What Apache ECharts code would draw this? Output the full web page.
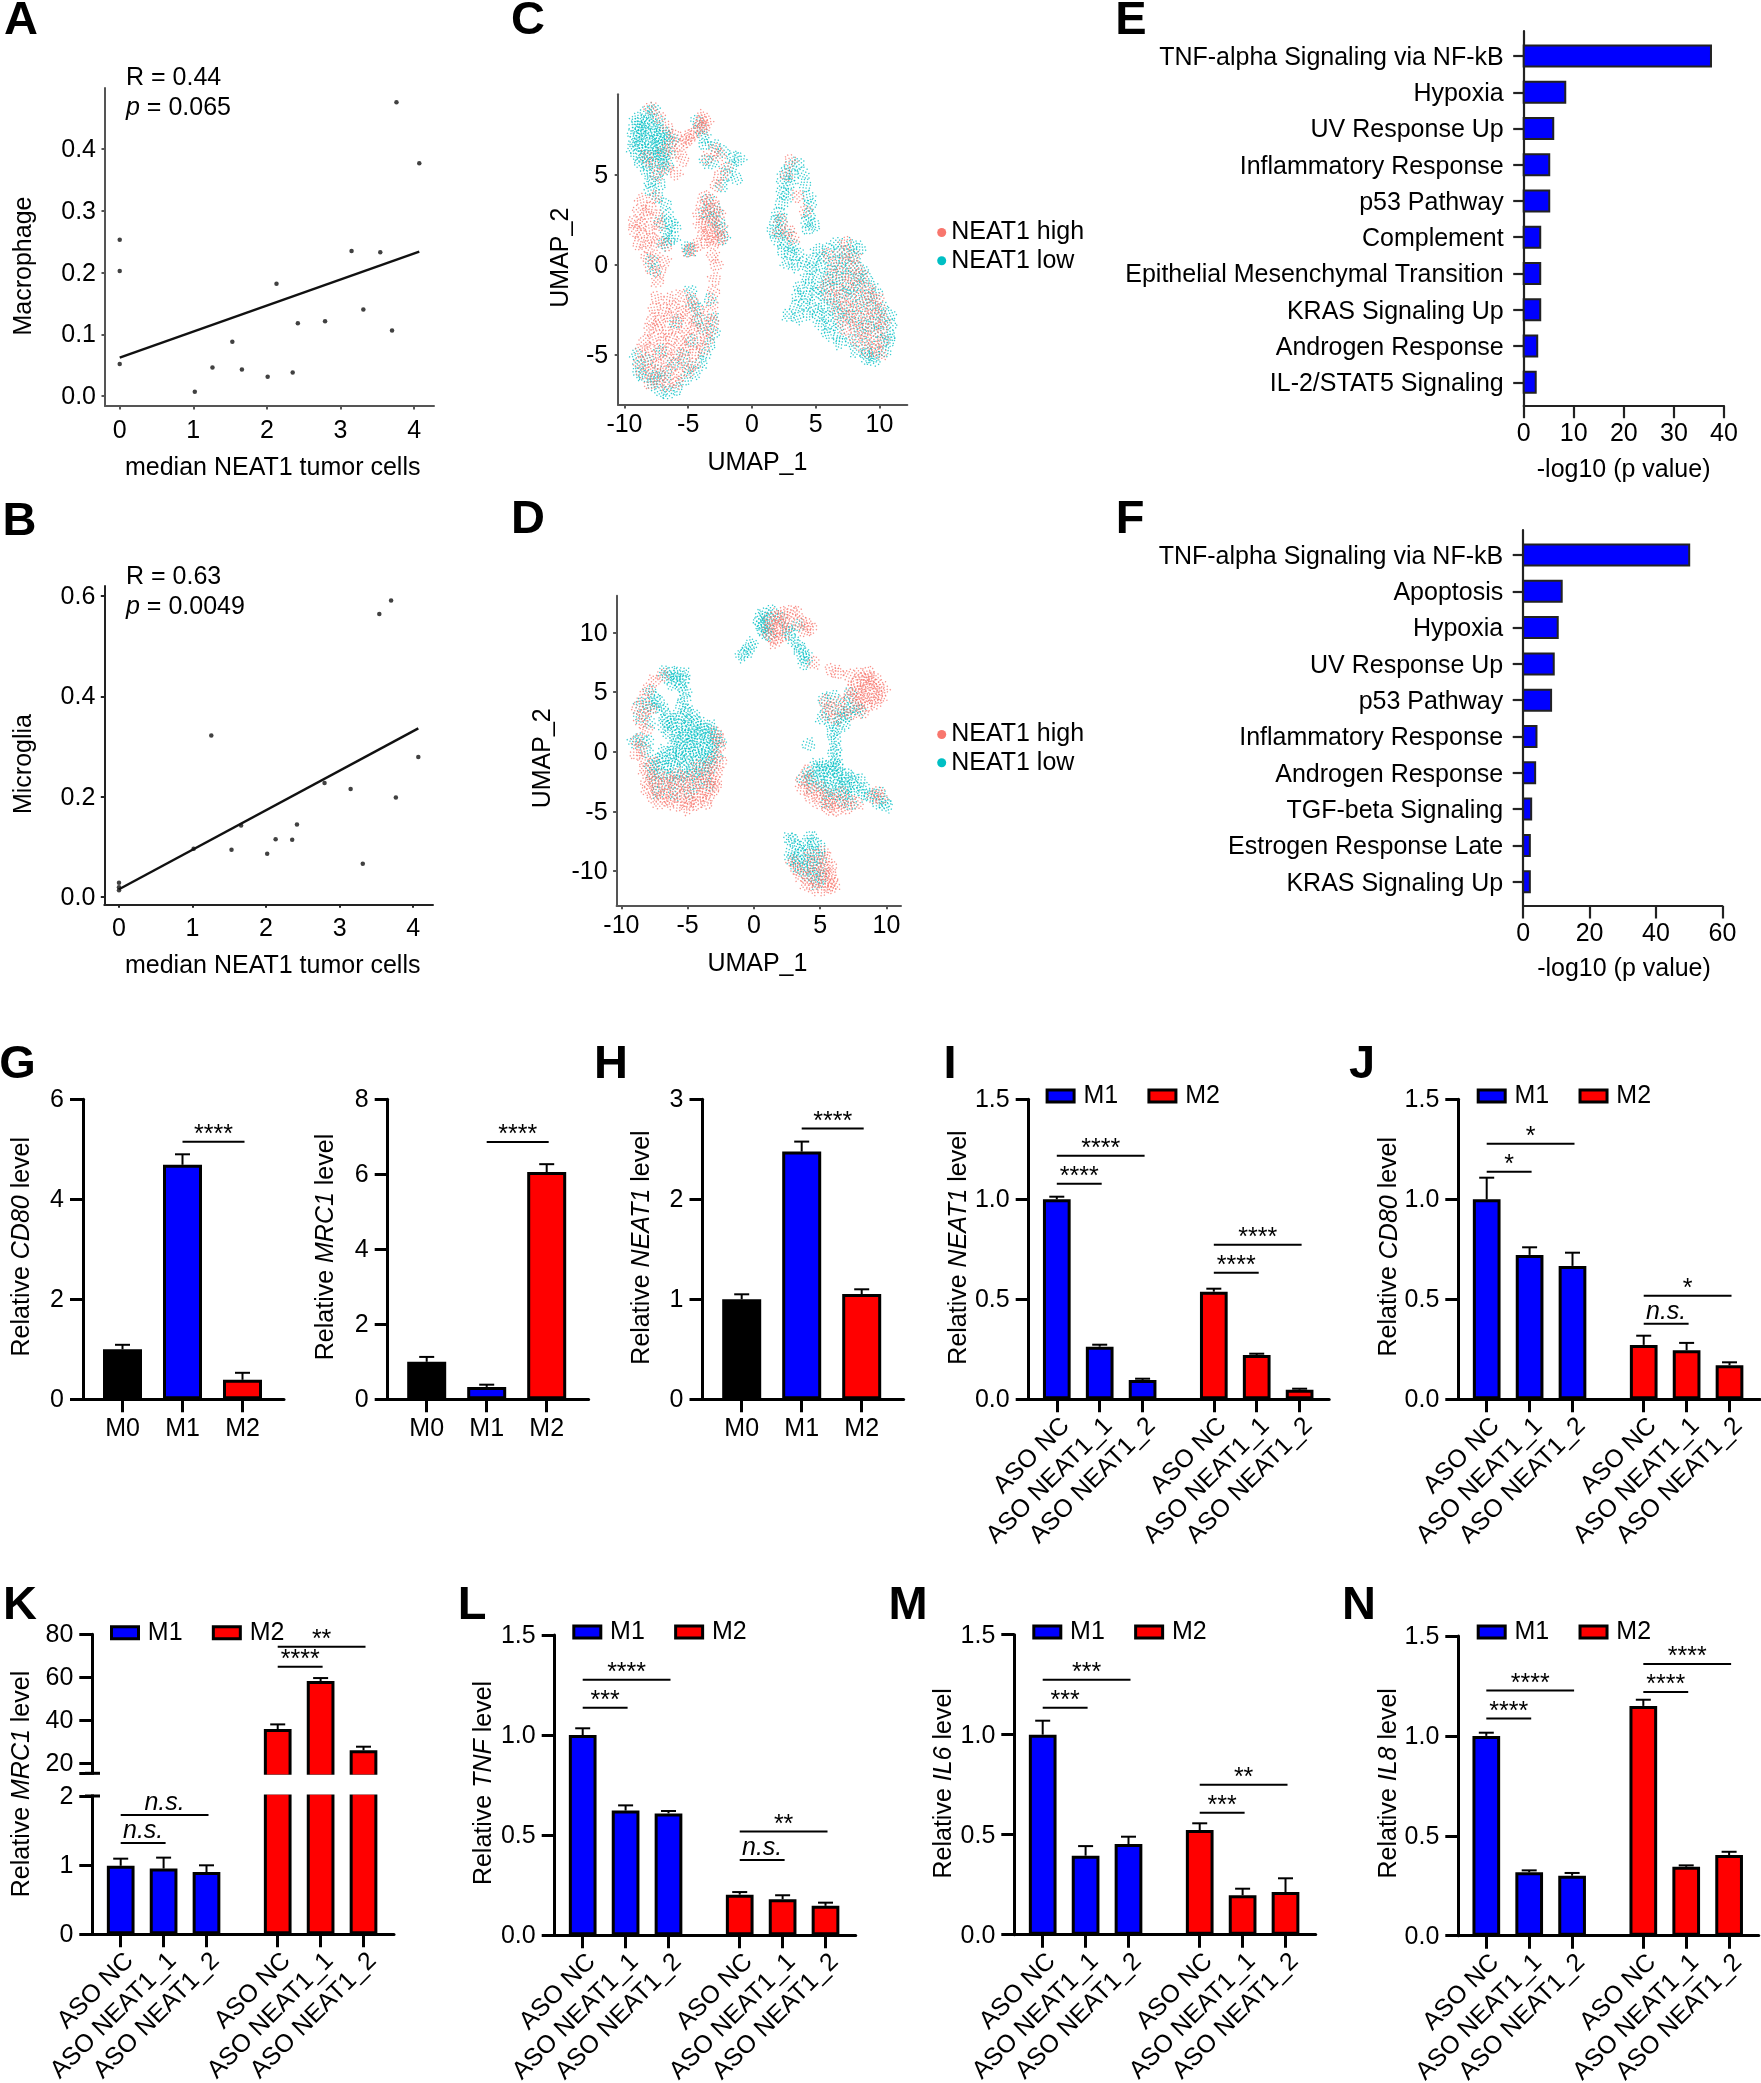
<!DOCTYPE html>
<html>
<head>
<meta charset="utf-8">
<style>html,body{margin:0;background:#fff}#chart{width:1761px;height:2083px}</style>
<script src="https://cdn.jsdelivr.net/npm/echarts@6/dist/echarts.min.js"></script>
</head>
<body>
<div id="chart"></div>
<script>
// A, B scatter: [median NEAT1, fraction]
const macrophagePoints = [[0,.253],[0,.2025],[0,.052],[1.02,.007],[1.26,.046],[1.53,.088],[1.66,.043],[2.01,.031],[2.13,.182],[2.35,.038],[2.42,.118],[2.79,.121],[3.15,.235],[3.31,.14],[3.54,.233],[3.7,.106],[3.76,.476],[4.07,.377]];
const macrophageTrend = [[0,.062],[4.07,.234]];
const microgliaPoints = [[0,.028],[0,.019],[0,.013],[1.015,.096],[1.255,.322],[1.53,.094],[1.66,.142],[2.015,.086],[2.13,.115],[2.355,.114],[2.42,.144],[2.795,.227],[3.15,.215],[3.315,.066],[3.54,.564],[3.7,.591],[3.765,.198],[4.07,.279]];
const microgliaTrend = [[0,.015],[4.07,.336]];

// C, D UMAP clouds, hand read region by region (a thinned estimate of the cells)
const umapCHigh = [[-8,8.7],[-7.3,8.2],[-6.6,7.6],[-6,7.2],[-5.6,6.6],[-5.2,6.9],[-6.1,6.2],[-5.4,5.8],[-6.6,5.4],[-7.4,5],[-6,5.1],[-7,6.3],[-8.3,6],[-7.7,5.6],[-6.4,6.8],
[-4,8],[-4.1,7.7],[-3.9,8.2],[-4.4,7.4],[-4.8,7.2],[-3.8,7.6],[-3.6,7.9],[-5,7],[-2.9,6.4],[-2.5,6.1],[-2,5.4],[-2.6,4.9],[-2.8,4.4],[-3.5,5.9],
[-8.6,3.6],[-8,3.2],[-7.6,3.8],[-8.9,3],[-8.3,2.8],[-7.4,2.7],[-9.2,2.4],[-8.7,2.3],[-8,2.1],[-7.3,2.2],[-9.2,1.9],[-8.6,1.7],[-7.9,1.5],[-8.9,1.2],[-8.3,1],[-7.4,1.3],[-6.7,1.1],[-8.2,.4],[-7.6,.5],[-6.9,.2],[-7.9,-.2],[-7.2,-.4],[-7.4,-.9],
[-3.7,3.8],[-3.2,3.6],[-3.9,3.3],[-3.4,3.1],[-2.9,3.2],[-4.1,2.8],[-3.6,2.7],[-3.1,2.6],[-2.6,2.8],[-4,2.2],[-3.5,2.1],[-3,2.3],[-2.5,2.1],[-3.8,1.7],[-3.3,1.6],[-2.8,1.8],[-2.3,1.6],[-3.6,1.3],[-3.1,1.2],[-2.6,1.4],[-4.3,1.1],[-4.7,.9],[-5,.8],[-3.1,.5],[-2.8,0],[-2.9,-.8],[-3,-1.5],[-3.1,-2.2],
[-7.5,-1.8],[-6.5,-1.9],[-5.5,-1.7],[-4.7,-1.9],[-7.6,-2.4],[-6.9,-2.5],[-6.2,-2.3],[-5.5,-2.6],[-4.8,-2.3],[-4.2,-2.5],[-7.8,-3],[-7.2,-3.1],[-6.5,-2.9],[-5.8,-3.1],[-5.1,-2.9],[-4.4,-3.1],[-3.6,-2.9],[-3.1,-3.1],
[-8,-3.6],[-7.4,-3.5],[-6.7,-3.7],[-6,-3.5],[-5.3,-3.7],[-4.6,-3.5],[-3.9,-3.7],[-3.2,-3.6],[-8.4,-4.2],[-7.7,-4.1],[-7,-4.3],[-6.3,-4.1],[-5.6,-4.3],[-4.9,-4.1],[-4.2,-4.3],[-3.5,-4.1],
[-8.7,-4.8],[-8,-4.7],[-7.3,-4.9],[-6.6,-4.7],[-5.9,-4.9],[-5.2,-4.7],[-4.5,-4.9],[-3.8,-4.7],[-8.8,-5.4],[-8.1,-5.3],[-7.4,-5.5],[-6.7,-5.3],[-6,-5.5],[-5.3,-5.3],[-4.6,-5.5],[-8.6,-6],[-7.9,-5.9],[-7.2,-6.1],[-6.5,-5.9],[-5.8,-6.1],[-5,-5.9],[-8,-6.6],[-7.3,-6.5],[-6.6,-6.7],[-5.9,-6.5],
[3,5.8],[2.7,5],[3.6,3.8],[2.3,2.5],[2.9,1.9],[3.2,1.5],[2.1,1.8],[4.2,3],[7.4,1.2],[6,.6],[7.2,.7],[8,.5],[6.4,0],[7.4,.1],[8.2,-.1],[6.2,-.6],[7,-.5],[7.8,-.7],[8.6,-.6],
[5.8,-1.2],[6.7,-1.3],[7.5,-1.1],[8.3,-1.2],[9.1,-1.3],[6.1,-1.8],[7,-1.7],[7.7,-1.9],[8.5,-1.8],[9.3,-1.7],[9.9,-1.9],[6.7,-2.4],[7.3,-2.3],[8,-2.5],[8.7,-2.4],[9.4,-2.3],[10.1,-2.5],[7,-3],[7.6,-2.9],[8.3,-3.1],[9,-3],[9.7,-2.9],[10.4,-3.1],[7.4,-3.6],[8.1,-3.5],[8.8,-3.7],[9.5,-3.6],[10.2,-3.5],[8.2,-4.2],[8.9,-4.1],[9.6,-4.3],[10.3,-4.2],[9,-4.8],[9.7,-4.7],[10.1,-4.9]];
const umapCLow = [[-8.3,8.5],[-7.7,8.6],[-9,8.1],[-8.5,8],[-8,8.2],[-7.4,8],[-9.2,7.7],[-8.7,7.6],[-8.2,7.8],[-7.6,7.7],[-7.1,7.5],[-9.3,7.3],[-8.8,7.2],[-8.3,7.4],[-7.8,7.3],[-7.3,7.2],[-6.8,7.3],[-9.2,6.9],[-8.7,6.8],[-8.2,7],[-7.7,6.9],[-7.2,6.8],[-6.7,7],[-6.2,6.9],[-9.3,6.5],[-8.8,6.6],[-8.3,6.4],[-7.8,6.5],[-7.3,6.6],[-6.8,6.4],[-9,6.1],[-8.5,6],[-8,6.2],[-7.5,6.1],[-7,6],[-6.5,6.2],[-8.7,5.7],[-8.2,5.6],[-7.6,5.8],[-7.1,5.7],[-6.6,5.6],[-8.2,5.2],[-7.6,5.1],[-7,5.3],[-8,4.6],[-7.2,4.5],
[-4.3,8],[-4,7.6],[-3.8,7.1],[-3.7,6.7],[-2.9,6.6],[-2.2,6.3],[-1.4,6],[-1,5.9],[-1.7,5.5],[-2,5],[-1.2,4.8],[-3.6,5.8],[-3.1,5.7],[-2.4,4.4],
[-8,4.2],[-7.4,3.8],[-6.8,3.4],[-6.6,2.8],[-6.4,2.3],[-6.1,2.1],[-6.7,1.8],[-6.5,1.4],[-6.9,1.2],[-6.2,1.5],[-7.2,2.4],[-7.9,.2],[-7.6,-.3],[-5,1],[-4.9,.8],[-3.5,3.6],[-3.7,2.9],[-3.2,2.5],[-2.6,2.4],[-2.4,2],[-2.3,1.5],[-2.8,3],[-4.8,-1.5],[-4.6,-2.1],[-4.3,-2.4],[-3.3,-1.9],
[-3.1,-3],[-3,-3.8],[-3.3,-4.4],[-3.7,-5],[-4,-5.4],[-4.5,-6],[-5.3,-6.4],[-5.9,-6.9],[-6.5,-7.1],[-7.1,-7],[-7.8,-6.6],[-8.4,-6.2],[-8.9,-5.6],[-9,-5],[-8.8,-6],[-7.4,-5.9],[-6.8,-6.2],[-8.2,-5.3],[-7.1,-4.8],[-5.4,-5],[-4.7,-4.2],[-3.9,-3.5],[-6,-3.2],[-5,-5.7],[-6.2,-5.5],[-4.2,-3],[-7.6,-6.3],
[3,5.5],[3.6,5.6],[2.6,5.1],[3.2,5],[4,5.1],[2.4,4.6],[2.9,4.5],[4.2,4.4],[2.4,4],[2.8,3.9],[4.4,3.8],[2.3,3.4],[4.6,3.3],[4.5,2.8],[2.1,2.9],[1.8,2.4],[2.3,2.5],[4.3,2.4],[4.9,2.2],[1.7,1.9],[2.2,1.9],[2.7,1.7],[4.4,2],[2,1.4],[2.6,1.2],[3.2,1.1],[2.4,.8],[3,.6],[3.6,.6],[2.8,.1],[3.4,0],[4,.1],
[6.6,1.2],[7.8,1.1],[5.2,.8],[6,.9],[6.8,.7],[7.6,.8],[8.4,.9],[4.8,.3],[5.6,.4],[6.4,.2],[7.2,.3],[8,.4],[4.6,-.2],[5.4,-.1],[6.2,-.3],[7,-.2],[7.8,-.1],[8.6,-.3],[4.4,-.7],[5.2,-.6],[5.9,-.8],[6.7,-.7],[7.5,-.6],[8.3,-.8],[9,-.7],
[3.8,-1.2],[4.5,-1.1],[5.2,-1.3],[6,-1.2],[6.8,-1.1],[7.6,-1.3],[8.4,-1.1],[9.3,-1.2],[3.6,-1.7],[4.3,-1.8],[5,-1.6],[5.7,-1.7],[6.5,-1.8],[7.3,-1.6],[8.1,-1.7],[9,-1.8],[9.8,-1.6],[3.4,-2.3],[4.1,-2.2],[4.9,-2.4],[5.6,-2.3],[6.4,-2.2],[7.2,-2.4],[8.2,-2.3],[9.2,-2.2],[10.2,-2.4],
[2.9,-2.8],[3.6,-2.9],[4.4,-2.7],[5.2,-2.8],[5.9,-2.9],[6.7,-2.7],[7.7,-2.8],[8.8,-2.9],[9.8,-2.7],[10.8,-2.8],[5.4,-3.3],[6.1,-3.4],[6.9,-3.2],[8,-3.3],[9.1,-3.4],[10,-3.2],[10.9,-3.3],[6,-3.8],[6.8,-3.9],[8.6,-3.8],[9.8,-3.7],[10.8,-3.9],[6.9,-4.3],[7.8,-4.2],[9,-4.4],[10.1,-4.3],[10.8,-4.2],[8.2,-4.8],[9,-4.9],[9.6,-5],[10.4,-4.8],[9,-5.2],[9.6,-5.3]];
const umapDHigh = [[1.2,11.2],[1.7,11.4],[2.2,11.6],[2.8,11.8],[3.2,11.7],[1.3,10.7],[1.8,10.9],[2.3,11],[1.1,10.2],[1.6,10.3],[2.1,10.5],[2.7,10.6],[3.5,10.9],[4,10.7],[4.3,10.4],[3.8,10.2],[1.3,9.6],[1.8,9.5],[2.3,9.8],[1.6,9.2],[4.5,7.5],
[5.8,6.9],[6.3,6.6],[7.2,6.4],[8,6.5],[8.6,6.7],[8.2,6.1],[8.7,6.2],[9.1,6.1],[7.7,5.7],[8.3,5.6],[8.8,5.7],[9.4,5.6],[7.4,5.2],[8,5],[8.6,5.2],[9.2,5],[9.7,5.2],[7.2,4.6],[7.7,4.4],[8.3,4.6],[8.9,4.5],[9.5,4.6],[6.4,4.2],[7.9,4],[8.5,3.9],[9.2,4.1],[5.4,4.3],[5.8,3.7],[6.8,3.4],[7.3,3.2],[8.2,3.3],[6.2,2.8],[5.5,3.2],
[-6.9,6.4],[-7.5,5.9],[-8,5.2],[-8.3,4.4],[-8.8,3.7],[-8.3,3.1],[-7.8,3.6],[-8.5,2.5],[-8.1,1.9],[-8.8,1],[-8.5,.4],[-8.9,-.2],[-8.3,-.7],[-8.2,-1.5],[-7.6,-.9],
[-2.9,1.6],[-2.7,1],[-2.6,.4],[-2.8,-.3],[-2.5,-.8],[-3.3,-.9],[-2.8,-1.6],[-3.5,-1.5],[-4.2,-1.2],
[-7.8,-2],[-7.2,-1.9],[-6.5,-2.1],[-5.8,-1.9],[-5,-2.1],[-4.3,-2],[-3.6,-2.1],[-3,-2.2],[-8.1,-2.6],[-7.5,-2.5],[-6.8,-2.7],[-6.1,-2.5],[-5.4,-2.7],[-4.7,-2.5],[-4,-2.7],[-3.3,-2.5],[-2.9,-2.8],[-8,-3.2],[-7.3,-3.1],[-6.6,-3.3],[-5.9,-3.1],[-5.2,-3.3],[-4.5,-3.1],[-3.8,-3.3],[-3.1,-3.1],[-7.6,-3.8],[-6.9,-3.7],[-6.2,-3.9],[-5.5,-3.7],[-4.8,-3.9],[-4.1,-3.7],[-3.4,-3.8],[-7.1,-4.3],[-6.4,-4.2],[-5.7,-4.4],[-5,-4.3],[-4.3,-4.4],[-3.6,-4.3],[-5,-4.7],
[4,-1.6],[3.6,-2.4],[4.2,-2.6],[3.7,-3.1],[4.4,-3.2],[5,-3],[4.2,-3.7],[4.9,-3.8],[5.5,-3.6],[5,-4.3],[5.7,-4.4],[6.3,-4.2],[5.6,-4.8],[6.3,-4.9],[7,-4.7],[7.2,-4],[7.8,-4.3],[9.3,-3.4],[9.6,-3.9],[9,-3.8],[5.9,-3.9],[6.6,-3.4],
[5.2,-8.4],[5.4,-9],[4.7,-9.3],[5.3,-9.7],[5.8,-9.6],[4,-9.6],[4.6,-10],[5.2,-10.3],[5.8,-10.2],[3.5,-10.3],[4.1,-10.6],[4.7,-10.8],[5.3,-10.9],[5.9,-10.8],[4,-11.1],[4.5,-11.4],[5.2,-11.5],[5.7,-11.4],[3.2,-9.8],[3,-9.2],[4.3,-8.6],[6,-11.1]];
const umapDLow = [[.4,10.9],[.5,11.3],[.7,10.6],[.9,11.6],[1.1,11.1],[.6,10.2],[1,10.4],[.9,9.9],[1.4,11.8],[2,11.2],[2.5,10.3],[3.3,10.6],[1.2,9.8],[2.7,9.9],[-.9,8.1],[-.7,8.3],[-.4,8.7],[-.2,9],[3,9.3],[3.4,8.9],[3.5,8.5],[3.8,8.2],[3.9,7.8],[3.8,7.4],
[-6.7,6.7],[-6.2,6.7],[-5.7,6.6],[-5.3,6.5],[-6.5,6.2],[-5.9,6.1],[-5.3,6],[-6.1,5.7],[-5.5,5.5],[-5.2,5],[-7.8,5],[-7.5,4.6],[-7.2,4.2],[-8,4],[-7.6,3.7],[-6.9,3.6],[-6.6,3.1],[-5.2,4.4],[-5.5,3.9],[-5.1,3.4],[-4.6,3.1],[-8.5,4],[-8.6,3],[-7.9,2.5],
[-6.6,2.6],[-6.1,2.8],[-5.5,2.9],[-5,2.7],[-4.4,2.6],[-3.9,2.4],[-3.3,2.1],[-6.8,2.1],[-6.2,2.2],[-5.6,2.3],[-5,2.1],[-4.5,2],[-3.9,1.9],[-3.3,1.6],[-2.9,1.5],[-6.4,1.6],[-5.8,1.7],[-5.2,1.5],[-4.7,1.4],[-4.1,1.5],[-3.6,1.2],[-3,1],[-5.9,1.1],[-5.3,1],[-4.7,.9],[-4.2,1],[-3.6,.7],[-3.1,.5],[-2.6,.8],[-9,.8],[-8.5,1.1],[-8,.9],[-8.2,.1],[-6.1,.5],[-5.5,.4],[-4.9,.5],[-4.4,.3],[-3.8,.2],[-3.2,-.1],[-6.8,0],[-6.2,-.1],[-5.6,0],[-5,-.2],[-4.5,-.1],[-3.9,-.4],[-3.4,-.5],[-2.8,-.4],[-7.4,-.6],[-6.8,-.5],[-6.2,-.7],[-5.6,-.6],[-5,-.7],[-4.3,-.8],[-3.7,-1],[-7.8,-1.2],[-7.2,-1.1],[-6.6,-1.3],[-6,-1.2],[-5.3,-1.3],[-4.7,-1.4],[-3.9,-1.5],[-3.2,-1.3],[-7.6,-1.8],[-7,-1.8],[-6.2,-1.9],[-5.4,-2],[-4.6,-1.9],[-3.7,-2],[-7.4,-2.5],[-6.4,-2.6],[-5.6,-2.4],[-4.4,-2.7],[-3.4,-2.8],[-7.2,-3.4],[-6,-3.5],[-4.9,-3.4],
[5.3,4.4],[5.5,3.4],[5.2,2.8],[5.9,2.4],[6.3,2],[6.8,2.4],[6.5,2.9],[7,3],[6.4,3.5],[7.2,3.6],[6.9,4.1],[7.7,3.7],[6,4.6],[7.3,4.9],[8,3.5],[5.9,1.6],[4.1,.6],[6.1,.9],[6.2,.3],[6.1,-.2],[6.2,-.7],[6,-1.1],
[4.6,-1.2],[5.1,-1.1],[5.6,-1.2],[6.3,-1.3],[4.1,-1.8],[4.7,-1.7],[5.3,-1.6],[5.9,-1.7],[6.5,-1.8],[7,-1.9],[3.7,-2.3],[4.4,-2.2],[5,-2.4],[5.6,-2.2],[6.2,-2.3],[6.8,-2.4],[7.4,-2.2],[8,-2.4],[4.4,-2.9],[5.2,-2.8],[5.8,-3],[6.4,-2.8],[7,-3],[7.6,-2.9],[8.3,-3],[5.4,-3.4],[6.1,-3.5],[6.8,-3.6],[7.5,-3.4],[8.4,-3.6],[5.5,-4.2],[6.6,-4.1],[7.3,-4.4],[9.5,-3.5],[9.9,-4.2],[10,-4.5],[9.3,-4.2],[8.8,-3.7],
[2.7,-7.3],[3,-7.4],[4.3,-7.1],[3.3,-7.9],[3.9,-7.7],[4.5,-7.6],[5,-8],[2.9,-8.4],[3.5,-8.5],[4.1,-8.3],[4.7,-8.6],[2.8,-9],[3.3,-9.1],[3.9,-9],[4.4,-9.2],[5,-8.9],[3.2,-9.6],[3.7,-9.8],[4.3,-9.6],[5,-9.8],[3.9,-10.3],[4.5,-10.4],[5.1,-10.5],[4.8,-11]];

// E, F enrichment
const enrichELabels = ['TNF-alpha Signaling via NF-kB','Hypoxia','UV Response Up','Inflammatory Response','p53 Pathway','Complement','Epithelial Mesenchymal Transition','KRAS Signaling Up','Androgen Response','IL-2/STAT5 Signaling'];
const enrichEValues = [37.4,8.3,5.9,5.1,5.1,3.3,3.3,3.3,2.7,2.4];
const enrichFLabels = ['TNF-alpha Signaling via NF-kB','Apoptosis','Hypoxia','UV Response Up','p53 Pathway','Inflammatory Response','Androgen Response','TGF-beta Signaling','Estrogen Response Late','KRAS Signaling Up'];
const enrichFValues = [50,11.6,10.4,9.2,8.4,4,3.6,2.4,2,2];

// G-N qPCR bars
const polarLabels = ['M0','M1','M2'];
const polarPositions = [0,1,2];
const polarColors = ['#000000','#0000FF','#FF0000'];
const asoLabels = ['ASO NC','ASO NEAT1_1','ASO NEAT1_2','ASO NC','ASO NEAT1_1','ASO NEAT1_2'];
const asoPositions = [0,1,2,3.66,4.66,5.66];

const cd80Polar = [1,4.69,.39], cd80PolarErr = [1.09,4.9,.53];
const mrc1Polar = [1,.33,6.06], mrc1PolarErr = [1.13,.39,6.27];
const neat1Polar = [1,2.477,1.053], neat1PolarErr = [1.05,2.577,1.1];

const neat1M1 = [1,.263,.097], neat1M1Err = [1.013,.273,.103];
const neat1M2 = [.538,.222,.048], neat1M2Err = [.553,.228,.053];
const cd80M1 = [1,.722,.667], cd80M1Err = [1.108,.76,.733];
const cd80M2 = [.272,.245,.17], cd80M2Err = [.318,.282,.185];
const mrc1M1 = [.99,.95,.9], mrc1M1Err = [1.093,1.108,.997];
const mrc1M2 = [35.8,58.2,25.9], mrc1M2Err = [38,59.6,27.6];
const tnfM1 = [1,.623,.609], tnfM1Err = [1.034,.649,.621];
const tnfM2 = [.203,.18,.147], tnfM2Err = [.216,.2,.163];
const il6M1 = [1,.395,.453], il6M1Err = [1.07,.443,.49];
const il6M2 = [.523,.197,.213], il6M2Err = [.557,.23,.282];
const il8M1 = [1,.317,.3], il8M1Err = [1.016,.327,.314];
const il8M2 = [1.15,.345,.404], il8M2Err = [1.181,.352,.42];

const FONT = 'Liberation Sans';
const FS = 25;
// each UMAP mark is a small speckle, so the thinned clouds read as fine grain
const SPECKLE = 'path://M2 30h10v10h-10zM14 62h10v10h-10zM20 8h10v10h-10zM27 40h10v10h-10zM30 80h10v10h-10zM41 22h10v10h-10zM44 55h10v10h-10zM47 90h10v10h-10zM55 0h10v10h-10zM58 36h10v10h-10zM62 70h10v10h-10zM70 18h10v10h-10zM73 50h10v10h-10zM79 85h10v10h-10zM84 32h10v10h-10zM90 62h10v10h-10zM90 5h10v10h-10zM0 52h10v10h-10z';
const grids = [], xAxes = [], yAxes = [], series = [], legends = [], graphics = [];

function ax(color, w, tickLen, margin, ticks, fmt, extra) {
  return Object.assign({
    type: 'value', splitLine: {show: false},
    axisLine: {onZero: false, lineStyle: {color: color, width: w}},
    axisTick: {customValues: ticks, length: tickLen, lineStyle: {color: color, width: w}},
    axisLabel: {customValues: ticks, margin: margin, fontFamily: FONT, fontSize: FS, color: '#000', formatter: fmt, showMinLabel: true, showMaxLabel: true}
  }, extra);
}
// y tick labels sit a little under the tick, as in the source figure
function nudgeDown(axis, px) {
  axis.axisLabel.verticalAlign = 'top';
  axis.axisLabel.lineHeight = px * 2;
}
function text(x, y, str, opt) {
  opt = opt || {};
  graphics.push({type: 'text', x: opt.rot ? x + 1.3 : x, y: opt.rot ? y : y + 1.3, rotation: opt.rot ? Math.PI / 2 : 0, silent: true, z: 20, style: {
    text: str, fontFamily: FONT, fontSize: opt.size || FS, fontWeight: opt.weight || 'normal', fill: '#000',
    align: opt.align || 'center', verticalAlign: 'middle',
    rich: {i: {fontStyle: 'italic', fontFamily: FONT, fontSize: opt.size || FS}}
  }});
}
function addGrid(left, right, top, bottom) {
  grids.push({left: left, top: top, width: right - left, height: bottom - top, outerBoundsMode: 'none'});
  return grids.length - 1;
}

function scatterPanel(p) {
  const g = addGrid(p.left, p.right, p.top, p.bottom);
  xAxes.push(ax(p.color, 2, 3.5, p.xMargin, p.xTicks, v => String(v), {gridIndex: g, min: p.xMin, max: p.xMax}));
  yAxes.push(ax(p.color, 2, 3.5, p.yMargin, p.yTicks, p.yFmt || (v => String(v)), {gridIndex: g, min: p.yMin, max: p.yMax}));
  nudgeDown(yAxes[g], 1.3);
  p.layers.forEach(l => series.push(Object.assign({xAxisIndex: g, yAxisIndex: g}, l)));
}

function enrichPanel(p) {
  const positions = p.labels.map((_, i) => i);
  const g = addGrid(p.left, p.right, p.top, p.bottom);
  xAxes.push(ax('#222', 2.2, 12.5, 16, p.xTicks, v => String(v), {gridIndex: g, min: 0, max: p.xTicks[p.xTicks.length - 1]}));
  yAxes.push(ax('#222', 2.2, 10.5, 20, positions, v => p.labels[v], {gridIndex: g, inverse: true, min: -(p.first - p.top) / p.pitch, max: (p.bottom - p.first) / p.pitch}));
  nudgeDown(yAxes[g], 2);
  series.push({
    type: 'custom', xAxisIndex: g, yAxisIndex: g, encode: {x: 0, y: 1},
    data: p.values.map((v, i) => [v, i]),
    renderItem: (params, api) => {
      const a = api.coord([0, api.value(1)]), b = api.coord([api.value(0), api.value(1)]);
      return {type: 'rect', shape: {x: a[0], y: a[1] - 10.5, width: b[0] - a[0], height: 21}, style: {fill: '#0000FF', stroke: '#222', lineWidth: 2}};
    }
  });
}

function errorSeries(g, xs, means, errs) {
  return {
    type: 'custom', xAxisIndex: g, yAxisIndex: g, z: 3, encode: {x: 0, y: 1},
    data: xs.map((x, i) => [x, errs[i], means[i]]),
    renderItem: (params, api) => {
      const top = api.coord([api.value(0), api.value(1)]), base = api.coord([api.value(0), api.value(2)]);
      const cap = 7.5;
      const st = {stroke: '#000', lineWidth: 2, fill: 'none'};
      return {type: 'group', children: [
        {type: 'line', shape: {x1: top[0], y1: top[1], x2: base[0], y2: base[1]}, style: st},
        {type: 'line', shape: {x1: top[0] - cap, y1: top[1], x2: top[0] + cap, y2: top[1]}, style: st}
      ]};
    }
  };
}

function bracketSeries(g, positions, list) {
  return {
    type: 'custom', xAxisIndex: g, yAxisIndex: g, z: 4, encode: {x: [0, 1], y: 2},
    data: list.map(b => [positions[b[0]], positions[b[1]], b[2]]),
    renderItem: (params, api) => {
      const a = api.coord([api.value(0), api.value(2)]), b = api.coord([api.value(1), api.value(2)]);
      const label = list[params.dataIndex][3];
      const ns = label === 'n.s.';
      return {type: 'group', children: [
        {type: 'line', shape: {x1: a[0], y1: a[1], x2: b[0] + 2, y2: b[1]}, style: {stroke: '#000', lineWidth: 2}},
        {type: 'text', x: (a[0] + b[0]) / 2 + 1, y: a[1] + (ns ? 1 : 6), style: {
          text: label, fontFamily: FONT, fontSize: FS, fontStyle: ns ? 'italic' : 'normal', fill: '#000', align: 'center', verticalAlign: 'bottom'}}
      ]};
    }
  };
}

function barPanel(p) {
  const xMin = -(p.tick0 - p.left) / p.pitch, xMax = (p.right - p.tick0) / p.pitch;
  const g = addGrid(p.left, p.right, p.top, p.zero);
  xAxes.push(ax('#000', 3, 13, p.rotate ? 14 : 17, p.positions, v => p.labels[p.positions.indexOf(v)], {gridIndex: g, min: xMin, max: xMax, show: !p.hideX}));
  xAxes[g].axisLabel.rotate = p.rotate || 0;
  if (p.rotate) xAxes[g].axisLabel.verticalAlign = 'top';
  yAxes.push(ax('#000', 3, 13, 19, p.yTicks, p.yFmt || (v => String(v)), {gridIndex: g, min: p.yMin || 0, max: p.yMax}));
  nudgeDown(yAxes[g], 1.3);
  if (p.yLabelTicks) yAxes[g].axisLabel.customValues = p.yLabelTicks;
  p.sets.forEach(s => {
    const xs = s.values.map((_, i) => p.positions[i + s.from]);
    series.push({
      type: 'bar', name: s.name, xAxisIndex: g, yAxisIndex: g, barWidth: p.barWidth, barGap: '-100%',
      itemStyle: {color: s.color, borderColor: '#000', borderWidth: 3},
      data: s.values.map((v, i) => s.colors ? {value: [xs[i], v], itemStyle: {color: s.colors[i]}} : [xs[i], v])
    });
    if (s.errors) series.push(errorSeries(g, xs, s.values, s.errors));
  });
  if (p.brackets) series.push(bracketSeries(g, p.positions, p.brackets));
  if (p.legendLeft) legends.push({
    data: ['M1', 'M2'], left: p.legendLeft - 1, top: p.legendCy - 11.5, padding: 0, itemWidth: 27, itemHeight: 12, itemGap: 29.3,
    icon: 'rect', selectedMode: false, itemStyle: {borderColor: '#000', borderWidth: 3},
    textStyle: {fontFamily: FONT, fontSize: FS, color: '#000', padding: [0, 0, 0, 4.3]}
  });
}

const one = v => v.toFixed(1);
const dot = (data, size, color) => ({type: 'scatter', data: data, symbolSize: size, itemStyle: {color: color}});
const trend = data => ({type: 'line', data: data, showSymbol: false, lineStyle: {color: '#111', width: 2.4}});

// A
scatterPanel({left: 105, right: 434, top: 88, bottom: 406, color: '#555', xMin: -.2, xMax: 4.27, yMin: -.0162, yMax: .499,
  xTicks: [0,1,2,3,4], yTicks: [0,.1,.2,.3,.4], yFmt: one, xMargin: 13, yMargin: 9,
  layers: [dot(macrophagePoints, 4.5, '#111'), trend(macrophageTrend)]});
// B
scatterPanel({left: 104.3, right: 433, top: 586, bottom: 904.3, color: '#222', xMin: -.2, xMax: 4.27, yMin: -.015, yMax: .62,
  xTicks: [0,1,2,3,4], yTicks: [0,.2,.4,.6], yFmt: one, xMargin: 12, yMargin: 9,
  layers: [dot(microgliaPoints, 4.5, '#111'), trend(microgliaTrend)]});
// C, D
const umapLayer = (name, data, color) => ({
  type: 'scatter', name: name, data: data, silent: true, symbol: SPECKLE, symbolSize: 13,
  symbolRotate: (v, params) => params.dataIndex * 67 % 360,
  itemStyle: {color: color, opacity: .8}
});
scatterPanel({left: 618.2, right: 907.3, top: 94.3, bottom: 405, color: '#555', xMin: -10.49, xMax: 12.19, yMin: -7.78, yMax: 9.48,
  xTicks: [-10,-5,0,5,10], yTicks: [-5,0,5], xMargin: 8, yMargin: 10,
  layers: [umapLayer('NEAT1 low', umapCLow, '#00BFC4'), umapLayer('NEAT1 high', umapCHigh, '#F8766D')]});
scatterPanel({left: 616.6, right: 901, top: 595.7, bottom: 905.7, color: '#555', xMin: -10.36, xMax: 11.1, yMin: -12.89, yMax: 13.09,
  xTicks: [-10,-5,0,5,10], yTicks: [-10,-5,0,5,10], xMargin: 8, yMargin: 9,
  layers: [umapLayer('NEAT1 low', umapDLow, '#00BFC4'), umapLayer('NEAT1 high', umapDHigh, '#F8766D')]});
[[220, 937.2], [722, 937.2]].forEach(pos => legends.push({
  data: ['NEAT1 high', 'NEAT1 low'], orient: 'vertical', top: pos[0], left: pos[1], padding: 0, itemWidth: 9, itemHeight: 9, itemGap: 3.3,
  icon: 'circle', selectedMode: false, itemStyle: {opacity: 1}, textStyle: {fontFamily: FONT, fontSize: FS, color: '#000'}
}));
// E, F
enrichPanel({left: 1523.7, right: 1724, top: 31, bottom: 405.7, first: 56, pitch: 36.25, labels: enrichELabels, values: enrichEValues, xTicks: [0,10,20,30,40]});
enrichPanel({left: 1523.2, right: 1722.4, top: 530, bottom: 906, first: 555, pitch: 36.3, labels: enrichFLabels, values: enrichFValues, xTicks: [0,20,40,60]});
// G, H
const polarBase = {positions: polarPositions, labels: polarLabels, pitch: 60, barWidth: 39, top: 1099.3, zero: 1399.3};
barPanel(Object.assign({}, polarBase, {left: 83, right: 284, tick0: 122.5, yMax: 6, yTicks: [0,2,4,6],
  sets: [{name: 'CD80', from: 0, values: cd80Polar, errors: cd80PolarErr, color: '#000', colors: polarColors}],
  brackets: [[1,2,5.15,'****']]}));
barPanel(Object.assign({}, polarBase, {left: 387.7, right: 588.6, tick0: 426.7, yMax: 8, yTicks: [0,2,4,6,8],
  sets: [{name: 'MRC1', from: 0, values: mrc1Polar, errors: mrc1PolarErr, color: '#000', colors: polarColors}],
  brackets: [[1,2,6.86,'****']]}));
barPanel(Object.assign({}, polarBase, {left: 702.5, right: 903.6, tick0: 741.7, yMax: 3, yTicks: [0,1,2,3],
  sets: [{name: 'NEAT1', from: 0, values: neat1Polar, errors: neat1PolarErr, color: '#000', colors: polarColors}],
  brackets: [[1,2,2.707,'****']]}));
// I, J, L, M, N
const asoBase = {positions: asoPositions, labels: asoLabels, pitch: 42.9, barWidth: 27.7, rotate: 45, yMax: 1.5, yTicks: [0,.5,1,1.5], yFmt: one};
const asoSets = (m1, m1e, m2, m2e) => [{name: 'M1', from: 0, values: m1, errors: m1e, color: '#0000FF'}, {name: 'M2', from: 3, values: m2, errors: m2e, color: '#FF0000'}];
barPanel(Object.assign({}, asoBase, {left: 1028.7, right: 1329.2, tick0: 1056.8, top: 1099.3, zero: 1399.3, legendLeft: 1046.6, legendCy: 1095,
  sets: asoSets(neat1M1, neat1M1Err, neat1M2, neat1M2Err),
  brackets: [[0,1,1.078,'****'],[0,2,1.218,'****'],[3,4,.633,'****'],[3,5,.773,'****']]}));
barPanel(Object.assign({}, asoBase, {left: 1458.3, right: 1760, tick0: 1486.7, top: 1099.3, zero: 1399.3, legendLeft: 1477.7, legendCy: 1095,
  sets: asoSets(cd80M1, cd80M1Err, cd80M2, cd80M2Err),
  brackets: [[0,1,1.138,'*'],[0,2,1.278,'*'],[3,4,.378,'n.s.'],[3,5,.518,'*']]}));
barPanel(Object.assign({}, asoBase, {left: 554.7, right: 855.7, tick0: 582.7, top: 1635, zero: 1935.3, legendLeft: 573.3, legendCy: 1631,
  sets: asoSets(tnfM1, tnfM1Err, tnfM2, tnfM2Err),
  brackets: [[0,1,1.137,'***'],[0,2,1.277,'****'],[3,4,.376,'n.s.'],[3,5,.518,'**']]}));
barPanel(Object.assign({}, asoBase, {left: 1014.3, right: 1315.7, tick0: 1042.7, top: 1634.7, zero: 1934.7, legendLeft: 1033.3, legendCy: 1631,
  sets: asoSets(il6M1, il6M1Err, il6M2, il6M2Err),
  brackets: [[0,1,1.135,'***'],[0,2,1.275,'***'],[3,4,.61,'***'],[3,5,.75,'**']]}));
barPanel(Object.assign({}, asoBase, {left: 1458.3, right: 1758.7, tick0: 1486.3, top: 1636, zero: 1935.7, legendLeft: 1477.7, legendCy: 1631,
  sets: asoSets(il8M1, il8M1Err, il8M2, il8M2Err),
  brackets: [[0,1,1.087,'****'],[0,2,1.227,'****'],[3,4,1.22,'****'],[3,5,1.36,'****']]}));
// K, broken axis: lower 0-2 and upper 20-80 on their own grids
barPanel(Object.assign({}, asoBase, {left: 92.3, right: 394, tick0: 120.7, top: 1793, zero: 1934.3, yMax: 2.042, yTicks: [0,1,2], yFmt: v => String(v), legendLeft: 111, legendCy: 1631.8,
  sets: [{name: 'M1', from: 0, values: mrc1M1, errors: mrc1M1Err, color: '#0000FF'}, {name: 'M2', from: 3, values: mrc1M2, color: '#FF0000'}],
  brackets: [[0,1,1.32,'n.s.'],[0,2,1.724,'n.s.']]}));
barPanel(Object.assign({}, asoBase, {left: 92.3, right: 394, tick0: 120.7, top: 1634.3, zero: 1776, yMin: 13.94, yMax: 80, yTicks: [15.2,20,40,60,80], yLabelTicks: [20,40,60,80], yFmt: v => String(v), hideX: true,
  sets: [{name: 'M2', from: 3, values: mrc1M2, errors: mrc1M2Err, color: '#FF0000'}],
  brackets: [[3,4,64.9,'****'],[3,5,74.2,'**']]}));
graphics.push({type: 'rect', shape: {x: 85, y: 1774.8, width: 300, height: 19.7}, style: {fill: '#fff'}, z: 10, silent: true});
[1773.3, 1796].forEach(y => graphics.push({type: 'line', shape: {x1: 85, y1: y, x2: 100, y2: y}, style: {stroke: '#000', lineWidth: 3}, z: 11, silent: true}));

// text outside the axes
[['A',21,20],['B',19.5,521],['C',528,20],['D',528,519],['E',1131,20],['F',1130,519],['G',17.6,1064],['H',611,1064],['I',950,1064],['J',1362,1064],['K',20,1605],['L',472,1605],['M',908,1605],['N',1359,1605]]
  .forEach(l => text(l[1], l[2], l[0], {size: 47, weight: 'bold'}));
text(22.7, 266, 'Macrophage', {rot: 1});
text(272.7, 466.7, 'median NEAT1 tumor cells');
text(126, 76.7, 'R = 0.44', {align: 'left'});
text(126, 106.7, '{i|p} = 0.065', {align: 'left'});
text(22.7, 764, 'Microglia', {rot: 1});
text(272.7, 965, 'median NEAT1 tumor cells');
text(126, 575.7, 'R = 0.63', {align: 'left'});
text(126, 605.7, '{i|p} = 0.0049', {align: 'left'});
text(757.4, 461.7, 'UMAP_1');
text(560, 257.7, 'UMAP_2', {rot: 1});
text(757.4, 962.7, 'UMAP_1');
text(541.5, 758.3, 'UMAP_2', {rot: 1});
text(1623.6, 469, '-log10 (p value)');
text(1624, 968, '-log10 (p value)');
text(21, 1246.7, 'Relative {i|CD80} level', {rot: 1});
text(325, 1247, 'Relative {i|MRC1} level', {rot: 1});
text(641, 1247.5, 'Relative {i|NEAT1} level', {rot: 1});
text(957.5, 1247.5, 'Relative {i|NEAT1} level', {rot: 1});
text(1388.3, 1246.7, 'Relative {i|CD80} level', {rot: 1});
text(20.7, 1784, 'Relative {i|MRC1} level', {rot: 1});
text(482.7, 1783, 'Relative {i|TNF} level', {rot: 1});
text(942.7, 1783.3, 'Relative {i|IL6} level', {rot: 1});
text(1388, 1783.3, 'Relative {i|IL8} level', {rot: 1});

const chart = echarts.init(document.getElementById('chart'), null, {renderer: 'canvas'});
chart.setOption({
  animation: false, backgroundColor: '#fff', tooltip: {show: false},
  grid: grids, xAxis: xAxes, yAxis: yAxes, series: series, legend: legends,
  graphic: {elements: graphics}
});
</script>
</body>
</html>
